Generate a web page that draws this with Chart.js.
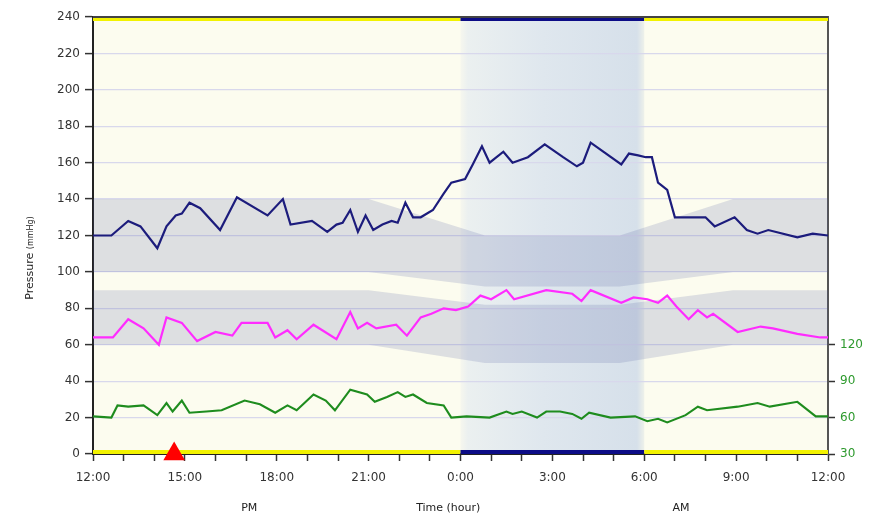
<!DOCTYPE html>
<html>
<head>
<meta charset="utf-8">
<script src="https://cdn.jsdelivr.net/npm/chart.js@4.4.0/dist/chart.umd.min.js"></script>
<style>
  body { margin: 0; background: #fff; }
</style>
</head>
<body>
<canvas id="bpChart" width="876" height="517"></canvas>
<script>
// all times are hours counted from 12:00 (noon) at the start of the recording
const sysTimes = [0, 0.6, 1.15, 1.55, 2.1, 2.4, 2.7, 2.9, 3.15, 3.5, 4.15, 4.7, 5.7, 6.2, 6.45, 7.15, 7.65, 7.95, 8.15, 8.4, 8.65, 8.9, 9.15, 9.45, 9.75, 9.95, 10.2, 10.45, 10.7, 11.1, 11.45, 11.7, 12.15, 12.4, 12.7, 12.95, 13.4, 13.7, 14.2, 14.75, 15.35, 15.8, 16.0, 16.25, 17.25, 17.5, 17.8, 18.05, 18.25, 18.45, 18.75, 19.0, 19.4, 20.0, 20.3, 20.95, 21.35, 21.7, 22.05, 23.0, 23.5, 24];
const sysValues = [120, 120, 128, 125, 113, 125, 131, 132, 138, 135, 123, 141, 131, 140, 126, 128, 122, 126, 127, 134, 122, 131, 123, 126, 128, 127, 138, 130, 130, 134, 143, 149, 151, 159, 169, 160, 166, 160, 163, 170, 163, 158, 160, 171, 159, 165, 164, 163, 163, 149, 145, 130, 130, 130, 125, 130, 123, 121, 123, 119, 121, 120];

const diaTimes = [0, 0.65, 1.15, 1.65, 2.15, 2.4, 2.9, 3.4, 4.0, 4.55, 4.85, 5.7, 5.95, 6.35, 6.65, 7.2, 7.95, 8.4, 8.65, 8.95, 9.25, 9.9, 10.25, 10.7, 11.05, 11.45, 11.85, 12.25, 12.65, 13.0, 13.5, 13.75, 14.8, 15.65, 15.95, 16.25, 17.25, 17.65, 18.1, 18.45, 18.75, 19.05, 19.45, 19.75, 20.05, 20.25, 21.05, 21.8, 22.2, 23.0, 23.75, 24];
const diaValues = [64, 64, 74, 69, 60, 75, 72, 62, 67, 65, 72, 72, 64, 68, 63, 71, 63, 78, 69, 72, 69, 71, 65, 75, 77, 80, 79, 81, 87, 85, 90, 85, 90, 88, 84, 90, 83, 86, 85, 83, 87, 81, 74, 79, 75, 77, 67, 70, 69, 66, 64, 64];

// heart rate in bpm, read on the right hand axis
const hrTimes = [0, 0.6, 0.8, 1.15, 1.65, 2.1, 2.4, 2.6, 2.9, 3.15, 3.7, 4.2, 4.95, 5.45, 5.95, 6.35, 6.65, 7.2, 7.6, 7.9, 8.4, 8.95, 9.2, 9.6, 9.95, 10.2, 10.45, 10.9, 11.45, 11.7, 12.2, 12.95, 13.5, 13.7, 14.0, 14.5, 14.8, 15.25, 15.65, 15.95, 16.2, 16.9, 17.7, 18.1, 18.45, 18.75, 19.35, 19.75, 20.05, 21.05, 21.7, 22.1, 23.0, 23.6, 24];
const hrValues = [61, 60, 70, 69, 70, 62, 72, 65, 74, 64, 65, 66, 74, 71, 64, 70, 66, 79, 74, 66, 83, 79, 73, 77, 81, 77, 79, 72, 70, 60, 61, 60, 65, 63, 65, 60, 65, 65, 63, 59, 64, 60, 61, 57, 59, 56, 62, 69, 66, 69, 72, 69, 73, 61, 61];

// normal ranges (day -> night -> day)
const bandTimes = [0, 9, 12.8, 17.2, 20.9, 24];
const sysBandHigh = [140, 140, 120, 120, 140, 140];
const sysBandLow = [100, 100, 92, 92, 100, 100];
const diaBandHigh = [90, 90, 82, 82, 90, 90];
const diaBandLow = [60, 60, 50, 50, 60, 60];

const phaseTimes = [0, 12, 18, 24];   // day / sleep / day
const eventTimes = [2.65];
const eventValues = [0];

const xTickLabels = ['12:00', '15:00', '18:00', '21:00', '0:00', '3:00', '6:00', '9:00', '12:00'];
const hrTickValues = [30, 60, 90, 120];

const YELLOW = '#f2f200';
const NAVY = '#0c0c86';
const BAND = 'rgba(85, 95, 160, 0.18)';

function toPoints(xs, ys) {
  return xs.map((x, i) => ({ x: x, y: ys[i] }));
}

function isNight(t) {
  return t >= phaseTimes[1] && t < phaseTimes[2];
}

// background: pale yellow day, blue-grey night
const backdrop = {
  id: 'backdrop',
  beforeDraw(chart) {
    const { ctx, chartArea: a, scales } = chart;
    ctx.save();
    ctx.fillStyle = '#fcfcef';
    ctx.fillRect(a.left, a.top, a.width, a.height);
    const n0 = scales.x.getPixelForValue(phaseTimes[1]);
    const n1 = scales.x.getPixelForValue(phaseTimes[2]);
    const g = ctx.createLinearGradient(n0, 0, n1, 0);
    g.addColorStop(0, '#f6f7ee');
    g.addColorStop(0.04, '#ebf0f0');
    g.addColorStop(0.45, '#dfe7ee');
    g.addColorStop(0.96, '#d6e0ea');
    g.addColorStop(1, '#eef1ea');
    ctx.fillStyle = g;
    ctx.fillRect(n0, a.top, n1 - n0, a.height);
    ctx.restore();
  }
};

// frame top line and the extra texts
const labels = {
  id: 'labels',
  afterDraw(chart) {
    const { ctx, chartArea: a, scales } = chart;
    ctx.save();
    ctx.strokeStyle = '#444';
    ctx.lineWidth = 2;
    ctx.beginPath();
    ctx.moveTo(a.left, a.top);
    ctx.lineTo(a.right, a.top);
    ctx.stroke();

    ctx.fillStyle = '#222';
    ctx.textBaseline = 'middle';
    ctx.textAlign = 'center';
    ctx.font = '11px "DejaVu Sans", sans-serif';
    ctx.fillText('PM', scales.x.getPixelForValue(5.1), 508);
    ctx.fillText('Time (hour)', scales.x.getPixelForValue(11.6), 508);
    ctx.fillText('AM', scales.x.getPixelForValue(19.2), 508);

    ctx.translate(30, 258);
    ctx.rotate(-Math.PI / 2);
    ctx.font = '11px "DejaVu Sans", sans-serif';
    const w1 = ctx.measureText('Pressure ').width;
    ctx.font = '8px "DejaVu Sans", sans-serif';
    const w2 = ctx.measureText('(mmHg)').width;
    ctx.textAlign = 'left';
    ctx.font = '11px "DejaVu Sans", sans-serif';
    ctx.fillText('Pressure ', -(w1 + w2) / 2, 0);
    ctx.font = '8px "DejaVu Sans", sans-serif';
    ctx.fillText('(mmHg)', -(w1 + w2) / 2 + w1, 1);
    ctx.restore();
  }
};

Chart.defaults.font.family = '"DejaVu Sans", sans-serif';
Chart.defaults.font.size = 12;

const phaseSegment = {
  borderColor: ctx => isNight(ctx.p0.parsed.x) ? NAVY : YELLOW
};

new Chart(document.getElementById('bpChart'), {
  type: 'line',
  data: {
    datasets: [
      { data: toPoints(eventTimes, eventValues), showLine: false, pointStyle: 'triangle',
        pointRadius: 12.5, backgroundColor: '#ff0000', borderColor: '#ff0000', borderWidth: 0,
        clip: false, order: 0 },
      { data: toPoints(sysTimes, sysValues), borderColor: '#1c1c7c', borderWidth: 2.2,
        pointRadius: 0, tension: 0, order: 1 },
      { data: toPoints(diaTimes, diaValues), borderColor: '#ff2cff', borderWidth: 2.2,
        pointRadius: 0, tension: 0, order: 1 },
      { data: toPoints(hrTimes, hrValues), yAxisID: 'hr', borderColor: '#1e8c1e', borderWidth: 2.1,
        pointRadius: 0, tension: 0, order: 1 },
      { data: phaseTimes.map(t => ({ x: t, y: 240 })), borderWidth: 8, pointRadius: 0,
        segment: phaseSegment, borderColor: YELLOW, clip: 0, order: 2 },
      { data: phaseTimes.map(t => ({ x: t, y: 0 })), borderWidth: 8, pointRadius: 0,
        segment: phaseSegment, borderColor: YELLOW, clip: 0, order: 2 },
      { data: toPoints(bandTimes, sysBandHigh), borderWidth: 0, pointRadius: 0,
        fill: '+1', backgroundColor: BAND, order: 5 },
      { data: toPoints(bandTimes, sysBandLow), borderWidth: 0, pointRadius: 0, fill: false, order: 5 },
      { data: toPoints(bandTimes, diaBandHigh), borderWidth: 0, pointRadius: 0,
        fill: '+1', backgroundColor: BAND, order: 5 },
      { data: toPoints(bandTimes, diaBandLow), borderWidth: 0, pointRadius: 0, fill: false, order: 5 }
    ]
  },
  options: {
    responsive: false,
    animation: false,
    layout: { padding: { top: 17 } },
    plugins: { legend: { display: false }, tooltip: { enabled: false } },
    scales: {
      x: {
        type: 'linear', min: 0, max: 24,
        afterFit: s => { s.height = 63; },
        afterBuildTicks: s => { s.ticks = Array.from({ length: 25 }, (_, i) => ({ value: i })); },
        ticks: {
          autoSkip: false, maxRotation: 0, padding: 10, color: '#333',
          callback: v => v % 3 === 0 ? xTickLabels[v / 3] : ''
        },
        grid: { drawOnChartArea: false, tickLength: 7, tickColor: '#333', tickWidth: 1.5 },
        border: { color: '#222', width: 2 }
      },
      y: {
        min: 0, max: 240,
        afterFit: s => { s.width = 93; },
        ticks: { stepSize: 20, color: '#333', padding: 5 },
        grid: { color: '#d8d8ec', lineWidth: 1.2, tickLength: 8, tickColor: '#333', tickWidth: 1.5 },
        border: { color: '#222', width: 2 }
      },
      hr: {
        position: 'right', min: 30, max: 390,
        afterFit: s => { s.width = 48; },
        afterBuildTicks: s => { s.ticks = hrTickValues.map(v => ({ value: v })); },
        ticks: { color: '#2e9a2e', padding: 5 },
        grid: { drawOnChartArea: false, tickLength: 7, tickColor: '#333', tickWidth: 1.5 },
        border: { color: '#555', width: 2 }
      }
    }
  },
  plugins: [backdrop, labels]
});
</script>
</body>
</html>
